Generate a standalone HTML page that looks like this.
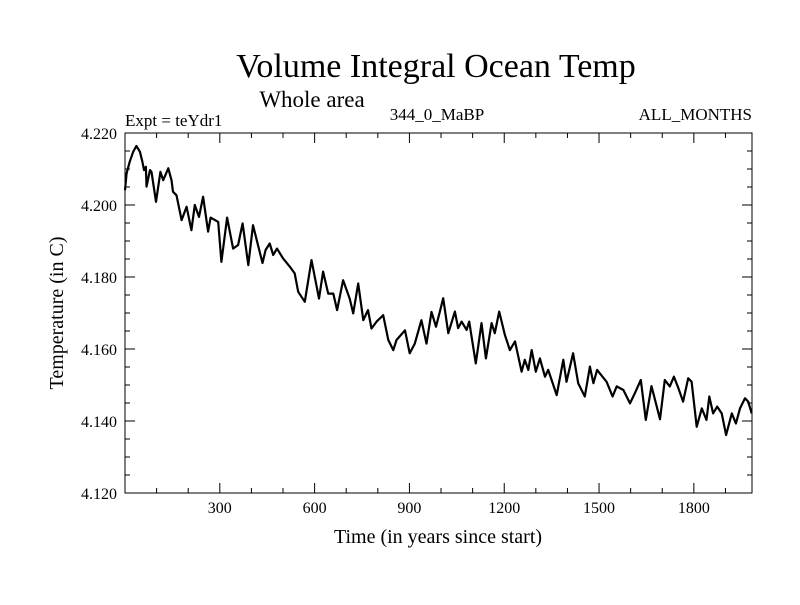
<!DOCTYPE html>
<html><head><meta charset="utf-8"><style>
body{margin:0;background:#fff}
svg text{font-family:"Liberation Serif",serif;fill:#000}
</style></head><body>
<svg id="chart" width="800" height="600" xmlns="http://www.w3.org/2000/svg">
<text x="436" y="77" font-size="34" text-anchor="middle">Volume Integral Ocean Temp</text>
<text x="312" y="107" font-size="23" text-anchor="middle">Whole area</text>
<text x="125" y="126" font-size="17">Expt = teYdr1</text>
<text x="437" y="120" font-size="17" text-anchor="middle">344_0_MaBP</text>
<text x="752" y="120" font-size="17" text-anchor="end">ALL_MONTHS</text>
<text x="438" y="543" font-size="20" text-anchor="middle">Time (in years since start)</text>
<text transform="translate(63,313) rotate(-90)" font-size="20" text-anchor="middle">Temperature (in C)</text>
<g id="axes"></g>
<path id="series" fill="none" stroke="#000" stroke-width="2.2" stroke-linejoin="round"/>
</svg>
<script>
const years=[0,5,15,26,36,47,55,60,66,68,79,84,98,112,121,137,147,152,163,179,195,210,221,234,247,263,271,295,305,323,342,358,372,390,405,435,445,458,469,481,500,522,537,548,569,590,614,627,643,659,671,690,711,722,738,754,769,780,796,817,833,849,859,886,901,917,938,954,970,984,996,1007,1023,1044,1054,1065,1081,1089,1110,1128,1142,1160,1170,1184,1202,1218,1234,1255,1265,1276,1287,1300,1313,1329,1339,1366,1387,1397,1418,1434,1455,1471,1482,1494,1524,1543,1556,1577,1598,1613,1632,1648,1666,1693,1708,1724,1737,1751,1766,1782,1793,1809,1825,1840,1849,1861,1874,1888,1902,1920,1933,1946,1962,1972,1983];
const temps=[4.2041,4.2088,4.2120,4.2148,4.2164,4.2148,4.2120,4.2097,4.2106,4.2051,4.2097,4.2092,4.2009,4.2092,4.2069,4.2102,4.2069,4.2037,4.2027,4.1958,4.1995,4.1930,4.2000,4.1967,4.2023,4.1926,4.1965,4.1953,4.1842,4.1965,4.1879,4.1889,4.1949,4.1833,4.1944,4.1839,4.1875,4.1893,4.1861,4.1879,4.1852,4.1828,4.1810,4.1759,4.1731,4.1847,4.1740,4.1815,4.1754,4.1754,4.1708,4.1791,4.1740,4.1699,4.1782,4.1680,4.1708,4.1657,4.1676,4.1694,4.1625,4.1597,4.1625,4.1652,4.1588,4.1615,4.1680,4.1615,4.1703,4.1662,4.1703,4.1741,4.1644,4.1704,4.1658,4.1676,4.1653,4.1676,4.1560,4.1672,4.1574,4.1672,4.1644,4.1704,4.1639,4.1597,4.1621,4.1537,4.1570,4.1542,4.1597,4.1537,4.1574,4.1523,4.1542,4.1472,4.1570,4.1509,4.1588,4.1505,4.1468,4.1551,4.1505,4.1542,4.1509,4.1468,4.1496,4.1486,4.1449,4.1477,4.1514,4.1403,4.1497,4.1405,4.1514,4.1496,4.1523,4.1491,4.1454,4.1519,4.1509,4.1384,4.1435,4.1403,4.1468,4.1421,4.1440,4.1421,4.1361,4.1421,4.1393,4.1435,4.1463,4.1454,4.1421];
const xTickLabels=[300,600,900,1200,1500,1800];
const yTickLabels=["4.120","4.140","4.160","4.180","4.200","4.220"];
const X0=125,X1=752,Y0=133,Y1=493,XMIN=0,XMAX=1984,YMIN=4.12,YMAX=4.22;
const sx=v=>X0+(v-XMIN)/(XMAX-XMIN)*(X1-X0);
const sy=v=>Y1-(v-YMIN)/(YMAX-YMIN)*(Y1-Y0);
const NS="http://www.w3.org/2000/svg";
const axes=document.getElementById('axes');
function mk(tag,attrs){const e=document.createElementNS(NS,tag);for(const k in attrs)e.setAttribute(k,attrs[k]);axes.appendChild(e);return e;}
const frame=mk('rect',{x:X0,y:Y0,width:X1-X0,height:Y1-Y0,fill:'none',stroke:'#000','stroke-width':1});


for(let t=100;t<XMAX;t+=100){const maj=t%300===0;const L=maj?10:5;
 const a=mk('line',{x1:sx(t),x2:sx(t),y1:Y1,y2:Y1-L,stroke:'#000'});
 
 
 const b=mk('line',{x1:sx(t),x2:sx(t),y1:Y0,y2:Y0+L,stroke:'#000'});
 
 }
xTickLabels.forEach(v=>{const t=mk('text',{x:sx(v),y:Y1+20,'font-size':16,'text-anchor':'middle'});t.textContent=v;
 
 });
for(let i=0;i<=20;i++){const v=YMIN+i*0.005;const maj=i%4===0;const L=maj?10:5;
 const a=mk('line',{x1:X0,x2:X0+L,y1:sy(v),y2:sy(v),stroke:'#000'});
 
 
 const b=mk('line',{x1:X1,x2:X1-L,y1:sy(v),y2:sy(v),stroke:'#000'});
 
 }
yTickLabels.forEach(s=>{const t=mk('text',{x:X0-8,y:sy(parseFloat(s))+6,'font-size':16,'text-anchor':'end'});t.textContent=s;
 
 });
document.getElementById('series').setAttribute('d',years.map((y,i)=>(i?'L':'M')+sx(y).toFixed(1)+','+sy(temps[i]).toFixed(1)).join(''));
</script>
</body></html>
